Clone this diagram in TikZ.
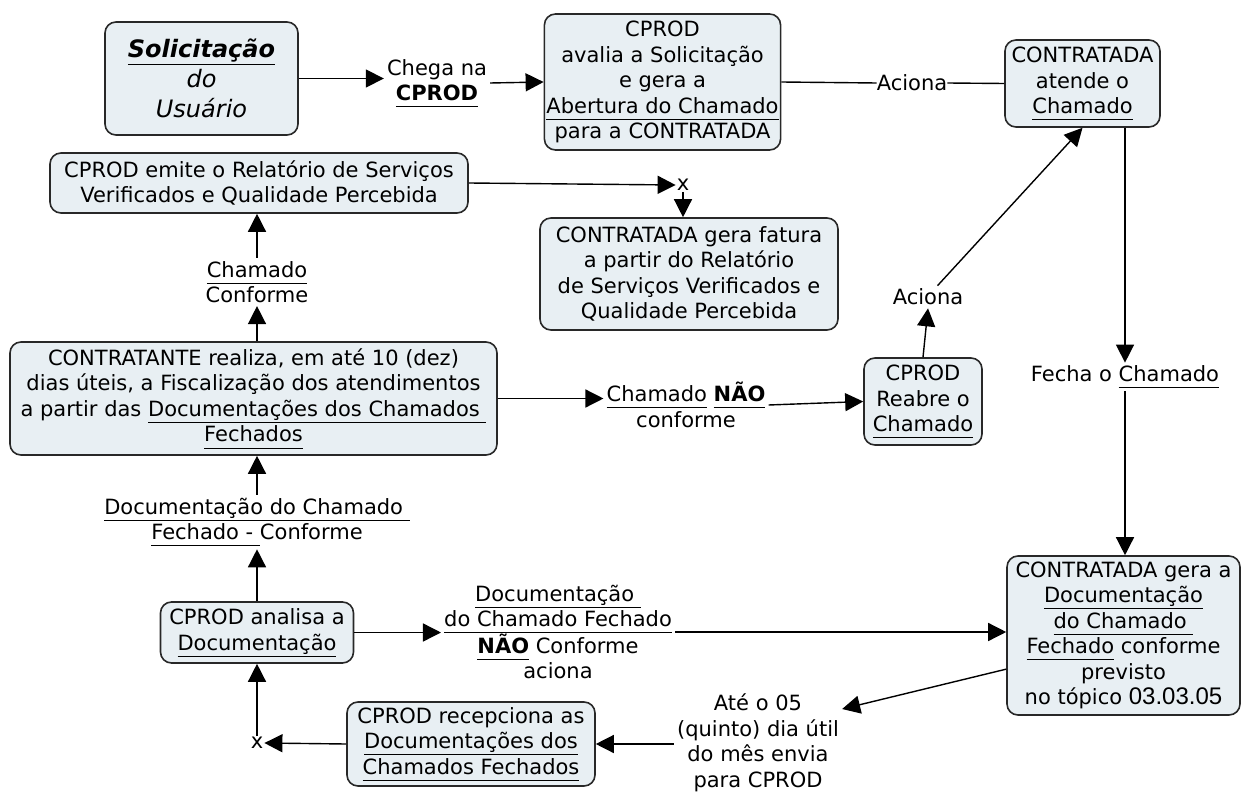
\documentclass[tikz,border=0pt]{standalone}
\usepackage{fontspec}
\setmainfont{DejaVu Sans}
\newfontfamily\arialfont{Liberation Sans}
\usepackage{tikz}
\usetikzlibrary{calc,positioning,arrows.meta}
\definecolor{fundocaixa}{RGB}{232,239,243}
\definecolor{bordacaixa}{RGB}{40,40,40}
\newcommand{\subl}[1]{\underline{#1\vphantom{g}}}
\tikzset{
	caixa/.style={draw=bordacaixa, line width=1.6pt, fill=fundocaixa, rounded corners=11pt, align=center, inner sep=2pt, font=\fontsize{21}{25.5}\selectfont},
	rotulo/.style={align=center, inner sep=3pt, font=\fontsize{21}{25.5}\selectfont},
	seta/.style={line width=1.4pt, -{Triangle[length=18pt,width=18pt]}},
	linha/.style={line width=1.4pt},
}
\begin{document}
\begin{tikzpicture}[x=1pt,y=1pt,yscale=-1,xscale=1]
		\useasboundingbox (0,0) rectangle (1241,794);
		
		% Text Node
		\node[caixa, minimum width=193pt, minimum height=113pt, font=\fontsize{24}{30}\selectfont\itshape] (solicitacao) at (201.5,78.5) {\textbf{\subl{Solicitação}}\\do\\Usuário};
		% Text Node
		\node[rotulo] (chega) at (437,83) {Chega na\\\subl{\textbf{CPROD}}};
		% Text Node
		\node[caixa, minimum width=189pt, minimum height=136pt] (avalia) at (662.5,82) {CPROD\\avalia a Solicitação\\e gera a\\\subl{Abertura do Chamado}\\para a CONTRATADA};
		% Text Node
		\node[rotulo, inner sep=0pt] (aciona) at (912,83) {Aciona};
		% Text Node
		\node[caixa, minimum width=155pt, minimum height=87pt] (atende) at (1082.5,83.5) {CONTRATADA\\atende o\\\subl{Chamado}};
		% Text Node
		\node[caixa, minimum width=418pt, minimum height=60pt] (emite) at (259,183) {CPROD emite o Relatório de Serviços\\Verificados e Qualidade Percebida};
		% Text Node
		\node[rotulo, inner sep=1pt] (xfatura) at (683,185) {x};
		% Text Node
		\node[caixa, minimum width=298pt, minimum height=112pt] (fatura) at (689,274) {CONTRATADA gera fatura\\a partir do Relatório\\de Serviços Verificados e\\Qualidade Percebida};
		% Text Node
		\node[rotulo] (conforme) at (257,282) {\subl{Chamado}\\Conforme};
		% Text Node
		\node[caixa, minimum width=487pt, minimum height=113pt] (fiscaliza) at (253.5,398.5) {CONTRATANTE realiza, em até 10 (dez)\\dias úteis, a Fiscalização dos atendimentos\\a partir das \subl{Documentações dos Chamados }\\\subl{Fechados}};
		% Text Node
		\node[rotulo] (naoconf) at (686,405) {\subl{Chamado} \subl{\textbf{NÃO}}\\conforme};
		% Text Node
		\node[caixa, minimum width=118pt, minimum height=87pt] (reabre) at (923,401.5) {CPROD\\Reabre o\\\subl{Chamado}};
		% Text Node
		\node[rotulo] (aciona2) at (928,297) {Aciona};
		% Text Node
		\node[rotulo] (fecha) at (1125,377) {Fecha o \subl{Chamado}};
		% Text Node
		\node[rotulo] (docconf) at (257,522) {\subl{Documentação do Chamado }\\\subl{Fechado - }Conforme};
		% Text Node
		\node[caixa, minimum width=193pt, minimum height=61pt] (analisa) at (257,632.5) {CPROD analisa a\\\subl{Documentação}};
		% Text Node
		\node[rotulo] (docnao) at (558,632) {\subl{Documentação }\\\subl{do Chamado Fechado}\\\subl{\textbf{NÃO}} Conforme\\aciona};
		% Text Node
		\node[caixa, minimum width=233pt, minimum height=159pt] (geradoc) at (1123.5,635.5) {CONTRATADA gera a\\\subl{Documentação}\\\subl{do Chamado }\\\subl{Fechado} conforme\\previsto\\no tópico {\arialfont\fontsize{24}{25.5}\selectfont 03.03.05}};
		% Text Node
		\node[rotulo] (prazo) at (758,743) {Até o 05\\(quinto) dia útil\\do mês envia\\para CPROD};
		% Text Node
		\node[caixa, minimum width=248pt, minimum height=84pt] (recepciona) at (471,744) {CPROD recepciona as\\\subl{Documentações dos}\\\subl{Chamados Fechados}};
		% Text Node
		\node[rotulo, inner sep=1pt] (xanalisa) at (257,743) {x};
		
		% Connection
		\draw[seta] (solicitacao.east) -- (solicitacao.east -| chega.west);
		% Connection
		\draw[seta] (chega.east) -- (avalia.west);
		% Connection
		\draw[linha] (avalia.east) -- (aciona.west);
		\draw[linha] (aciona.east) -- (atende.west);
		% Connection
		\draw[seta] (fecha.north |- atende.south) -- (fecha.north);
		\draw[seta] (fecha.south) -- (fecha.south |- geradoc.north);
		% Connection
		\draw[seta] (geradoc.196) -- (prazo.22);
		\draw[seta] (recepciona.east -| prazo.west) -- (recepciona.east);
		% Connection
		\draw[seta] (recepciona.west) -- (xanalisa.east);
		\draw[seta] (xanalisa.north) -- (xanalisa.north |- analisa.south);
		% Connection
		\draw[seta] (analisa.east) -- (docnao.west |- analisa.east);
		\draw[seta] (docnao.east) -- (geradoc.west |- docnao.east);
		% Connection
		\draw[seta] (analisa.north) -- (analisa.north |- docconf.south);
		\draw[seta] (docconf.north) -- (docconf.north |- fiscaliza.south);
		% Connection
		\draw[seta] (conforme.south |- fiscaliza.north) -- (conforme.south);
		\draw[seta] (conforme.north) -- (conforme.north |- emite.south);
		% Connection
		\draw[seta] (emite.east) -- (xfatura.west);
		\draw[seta] (xfatura.south) -- (xfatura.south |- fatura.north);
		% Connection
		\draw[seta] (fiscaliza.east) -- (naoconf.west |- fiscaliza.east);
		\draw[seta] (naoconf.east) -- (reabre.west);
		% Connection
		\draw[seta] (reabre.north) -- (aciona2.south);
		\draw[seta] (aciona2.50) -- (atende.south);
		
\end{tikzpicture}
\end{document}
